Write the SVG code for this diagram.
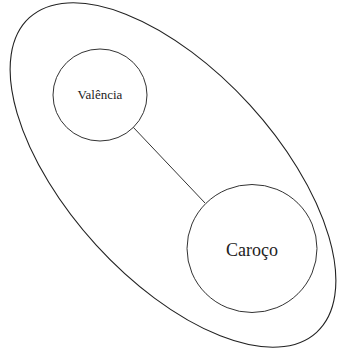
<svg xmlns="http://www.w3.org/2000/svg" width="337" height="349" viewBox="0 0 337 349">
<style>
.shape{fill:none;stroke:#222;stroke-width:1.1}
.node{fill:#fff;stroke:#333;stroke-width:1}
.lbl{font-family:"Liberation Serif","Times New Roman",serif;fill:#222;text-anchor:middle}
.edge{stroke:#333;stroke-width:1;fill:none}
</style>
<rect width="337" height="349" fill="#fff"/>
<g id="group">
<ellipse class="shape" cx="173" cy="175" rx="213" ry="104" transform="rotate(47.6 173 175)"/>
</g>
<g id="connectors">
<line class="edge" x1="133" y1="127" x2="205" y2="203"/>
</g>
<g id="valencia">
<ellipse class="node" cx="100" cy="95" rx="47" ry="46"/>
<text class="lbl" x="100" y="99" font-size="13">Valência</text>
</g>
<g id="caroco">
<ellipse class="node" cx="252" cy="248.5" rx="65" ry="64"/>
<text class="lbl" x="252" y="256" font-size="18">Caroço</text>
</g>
</svg>
